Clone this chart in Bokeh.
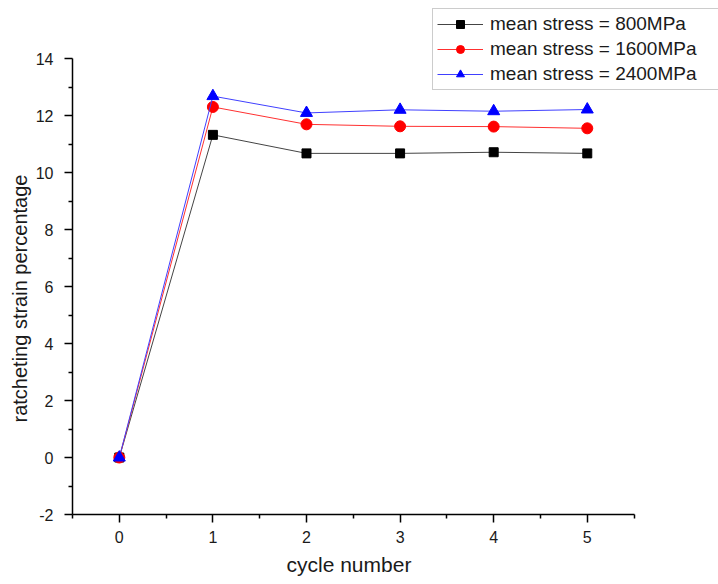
from bokeh.plotting import figure
from bokeh.models import Range1d, FixedTicker, Legend, LegendItem, CustomJSTickFormatter, Title
from bokeh.embed import file_html
from bokeh.resources import INLINE

cycles = [0, 1, 2, 3, 4, 5]
s800 = [0.0, 11.33, 10.68, 10.68, 10.72, 10.68]
s1600 = [0.0, 12.31, 11.70, 11.63, 11.62, 11.56]
s2400 = [0.0, 12.69, 12.10, 12.21, 12.16, 12.22]
labels = ["mean stress = 800MPa", "mean stress = 1600MPa", "mean stress = 2400MPa"]
y_major = [-2, 0, 2, 4, 6, 8, 10, 12, 14]
y_minor = [-1, 1, 3, 5, 7, 9, 11, 13]
x_major = [0, 1, 2, 3, 4, 5]
x_minor = [-0.5, 0.5, 1.5, 2.5, 3.5, 4.5, 5.5]
x_title = "cycle number"
y_title = "ratcheting strain  percentage"

FONT = "Liberation Sans"

# frame extends to the top/right canvas edges so the legend can sit there;
# the axes are bounded to the data ranges (-0.5..5.5, -2..14)
p = figure(width=718, height=584, output_backend="svg", toolbar_location=None,
           x_range=Range1d(-0.5, 6.402), y_range=Range1d(-2, 16.048),
           min_border_left=72, min_border_top=0, min_border_right=0, min_border_bottom=70)
p.outline_line_color = None
p.xgrid.visible = False
p.ygrid.visible = False
p.background_fill_color = "white"

fmt = CustomJSTickFormatter(code="return tick.toFixed(0)")

for ax, maj, mnr, bnd in ((p.xaxis[0], x_major, x_minor, (-0.5, 5.5)),
                          (p.yaxis[0], y_major, y_minor, (-2, 14))):
    ax.ticker = FixedTicker(ticks=maj, minor_ticks=mnr)
    ax.bounds = bnd
    ax.formatter = fmt
    ax.axis_line_width = 1.5
    ax.axis_line_color = "black"
    ax.major_tick_line_width = 1.5
    ax.minor_tick_line_width = 1.5
    ax.major_tick_out = 8
    ax.major_tick_in = 0
    ax.minor_tick_out = 4
    ax.minor_tick_in = 0
    ax.major_label_text_font = FONT
    ax.major_label_text_font_size = "16px"
    ax.major_label_text_color = "#1a1a1a"

p.xaxis.major_label_standoff = 8
p.yaxis.major_label_standoff = 11

tx = Title(text=x_title, align="left", offset=214, standoff=10,
           text_font=FONT, text_font_size="21px", text_font_style="normal",
           text_color="#1a1a1a")
p.add_layout(tx, "below")
ty = Title(text=y_title, align="left", offset=92, standoff=4,
           text_font=FONT, text_font_size="20px", text_font_style="normal",
           text_color="#1a1a1a")
p.add_layout(ty, "left")

l1 = p.line(cycles, s800, line_color="#444444", line_width=1)
m1 = p.scatter(cycles, s800, marker="square", size=9, fill_color="black", line_color="black")
l2 = p.line(cycles, s1600, line_color="#ff3030", line_width=1)
m2 = p.scatter(cycles, s1600, marker="circle", size=11, fill_color="#ff0000", line_color="#ff0000")
l3 = p.line(cycles, s2400, line_color="#4040ff", line_width=1)
m3 = p.scatter(cycles, s2400, marker="triangle", size=12, fill_color="#0000ff", line_color="#0000ff")

legend = Legend(items=[LegendItem(label=labels[0], renderers=[l1, m1]),
                       LegendItem(label=labels[1], renderers=[l2, m2]),
                       LegendItem(label=labels[2], renderers=[l3, m3])],
                location=(360, 424))
legend.padding = 4
legend.spacing = 3
legend.margin = 0
legend.glyph_width = 46
legend.glyph_height = 20
legend.label_height = 20
legend.label_width = 240
legend.label_standoff = 7
legend.label_text_font = FONT
legend.label_text_font_size = "19px"
legend.label_text_color = "#1a1a1a"
legend.border_line_color = "#999999"
legend.border_line_width = 1
legend.background_fill_color = "white"
legend.background_fill_alpha = 1.0
p.add_layout(legend, "center")

open("out.html", "w").write(file_html(p, INLINE))
